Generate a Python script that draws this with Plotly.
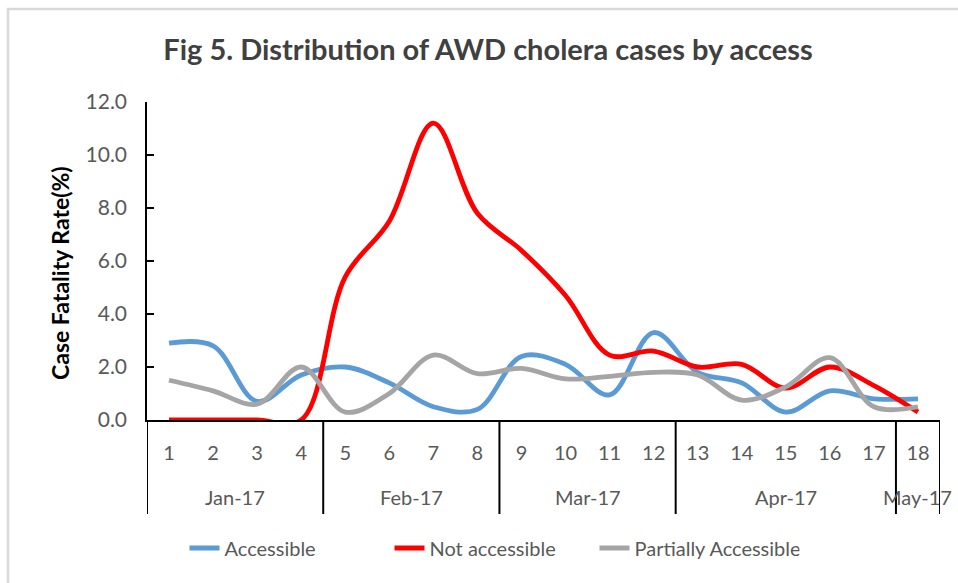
import plotly.graph_objects as go

# Week numbers and the month each week belongs to
weeks = [str(i) for i in range(1, 19)]
months = ["Jan-17"] * 4 + ["Feb-17"] * 4 + ["Mar-17"] * 4 + ["Apr-17"] * 5 + ["May-17"]

# Case fatality rate (%) by access group
accessible = [2.9, 2.8, 0.7, 1.7, 2.0, 1.4, 0.5, 0.4, 2.4, 2.1, 0.95, 3.3, 1.8, 1.4, 0.3, 1.1, 0.8, 0.8]
not_accessible = [0, 0, 0, 0, 5.4, 7.5, 11.2, 7.8, 6.4, 4.7, 2.45, 2.6, 2.0, 2.1, 1.2, 2.0, 1.3, 0.3]
partially_accessible = [1.5, 1.1, 0.6, 2.0, 0.3, 1.0, 2.45, 1.75, 1.95, 1.55, 1.65, 1.8, 1.7, 0.75, 1.25, 2.35, 0.5, 0.5]

y_ticks = [0, 2, 4, 6, 8, 10, 12]
y_tick_text = ["0.0", "2.0", "4.0", "6.0", "8.0", "10.0", "12.0"]

FONT = "Lato, 'Open Sans', sans-serif"
GREY_TXT = "#595959"

series = [
    ("Accessible", accessible, "#5B9BD5"),
    ("Not accessible", not_accessible, "#FF0000"),
    ("Partially Accessible", partially_accessible, "#A5A5A5"),
]

fig = go.Figure()
for name, vals, color in series:
    fig.add_trace(go.Scatter(
        x=weeks, y=vals, name=name, mode="lines",
        line=dict(color=color, width=4.8, shape="spline", smoothing=1.0),
    ))

# Month groups: label centred under its weeks, dividers at group edges
groups = []
for i, m in enumerate(months):
    if groups and groups[-1][0] == m:
        groups[-1][2] = i
    else:
        groups.append([m, i, i])

AX_DEPTH = 94 / 318  # divider length below the axis, in plot fractions
annotations = []
shapes = []
edges = {groups[0][1] - 0.5}
for name, first, last in groups:
    annotations.append(dict(
        text=name, x=(first + last) / 2, xref="x",
        y=-77 / 318, yref="paper", xanchor="center", yanchor="middle",
        showarrow=False, font=dict(family=FONT, size=20, color=GREY_TXT),
    ))
    edges.add(last + 0.5)
for e in sorted(edges):
    shapes.append(dict(
        type="line", xref="x", yref="paper", x0=e, x1=e, y0=0, y1=-AX_DEPTH,
        line=dict(color="black", width=2),
    ))

annotations.append(dict(
    text="<b>Case Fatality Rate(%)</b>", textangle=-90,
    x=(60 - 147) / 793, xref="paper", y=0.5 - 12 / 318, yref="paper",
    xanchor="center", yanchor="middle", showarrow=False,
    font=dict(family=FONT, size=23, color="black"),
))

# light frame around the chart area
shapes.append(dict(
    type="rect", xref="paper", yref="paper",
    x0=-139 / 793, x1=1.2, y0=-1.0, y1=(420 - 9) / 318,
    line=dict(color="#D9D9D9", width=2.5), fillcolor="rgba(0,0,0,0)", layer="below",
))

fig.update_layout(
    width=958, height=583,
    margin=dict(l=147, r=18, t=102, b=163),
    paper_bgcolor="white", plot_bgcolor="white",
    font=dict(family=FONT, size=20, color=GREY_TXT),
    title=dict(
        text="<b>Fig 5. Distribution of AWD cholera cases by access</b>",
        x=488 / 958, xanchor="center", xref="container",
        y=1 - 50 / 583, yanchor="middle", yref="container",
        font=dict(family=FONT, size=29, color="#404040"),
    ),
    showlegend=True,
    legend=dict(
        orientation="h", x=(492 - 147) / 793, xanchor="center",
        y=(420 - 548) / 318, yanchor="middle",
        font=dict(family=FONT, size=20, color=GREY_TXT),
        entrywidth=160, entrywidthmode="pixels",
    ),
    xaxis=dict(
        type="category", range=[-0.5, 17.5],
        showline=True, linecolor="black", linewidth=2,
        ticks="", showgrid=False, zeroline=False,
        tickfont=dict(family=FONT, size=20, color=GREY_TXT),
        ticklabelstandoff=14,
    ),
    yaxis=dict(
        range=[0, 12], tickvals=y_ticks, ticktext=y_tick_text,
        showline=True, linecolor="black", linewidth=1.5,
        ticks="inside", ticklen=7, tickcolor="black", tickwidth=1.5,
        showgrid=False, zeroline=False,
        tickfont=dict(family=FONT, size=21, color=GREY_TXT),
        ticklabelstandoff=14,
    ),
    annotations=annotations,
    shapes=shapes,
)

fig.write_html("out.html")
